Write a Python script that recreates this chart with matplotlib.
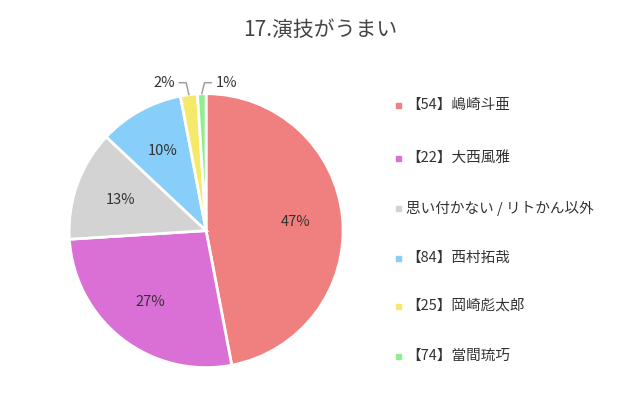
import matplotlib
matplotlib.use('Agg')
import matplotlib.pyplot as plt
import numpy as np

plt.rcParams['font.family'] = ['Noto Sans CJK JP', 'DejaVu Sans']

labels = ['【54】嶋崎斗亜', '【22】大西風雅', '思い付かない / リトかん以外', '【84】西村拓哉', '【25】岡崎彪太郎', '【74】當間琉巧']
values = [47, 27, 13, 10, 2, 1]
colors = ['#F08080', '#DA70D6', '#D3D3D3', '#87CEFA', '#F5E96A', '#90EE90']

fig = plt.figure(figsize=(6.4, 4.05), dpi=100)
ax = fig.add_axes([0.108, 0.092, 0.428, 0.677])
wedges, _ = ax.pie(values, colors=colors, startangle=90, counterclock=False,
                   wedgeprops=dict(edgecolor='white', linewidth=2))
ax.set_xlim(-1, 1)
ax.set_ylim(-1, 1)
ax.set_aspect('equal')

small_side = [-1, 1]  # 2% goes left, 1% goes right
k = 0
for w, v in zip(wedges, values):
    ang = np.deg2rad((w.theta1 + w.theta2) / 2)
    if v >= 5:
        ax.text(0.66 * np.cos(ang), 0.66 * np.sin(ang), f'{v}%', ha='center', va='center',
                fontsize=10.5, color='#333333')
    else:
        side = small_side[k]
        k += 1
        x0, y0 = 1.0 * np.cos(ang), 1.0 * np.sin(ang)
        x1, y1 = x0 + side * 0.02, 1.08
        ax.plot([x0, x1, x1 + side * 0.05], [y0, y1, y1], color='#999999', lw=1, clip_on=False)
        ax.text(x1 + side * 0.08, y1, f'{v}%', ha='right' if side < 0 else 'left',
                va='center', fontsize=10.5, color='#333333')

fig.text(0.5, 0.925, '17.演技がうまい', ha='center', va='center', fontsize=15, color='#444444')

ys = [105, 158, 208, 258, 306, 356]
for lab, c, y in zip(labels, colors, ys):
    yf = 1 - y / 405
    fig.patches.append(plt.Rectangle((0.618, yf - 0.008), 0.009, 0.014, color=c,
                                     transform=fig.transFigure, figure=fig))
    fig.text(0.634, yf, lab, ha='left', va='center', fontsize=10.5, color='#333333')

fig.savefig('out.png', dpi=100)
